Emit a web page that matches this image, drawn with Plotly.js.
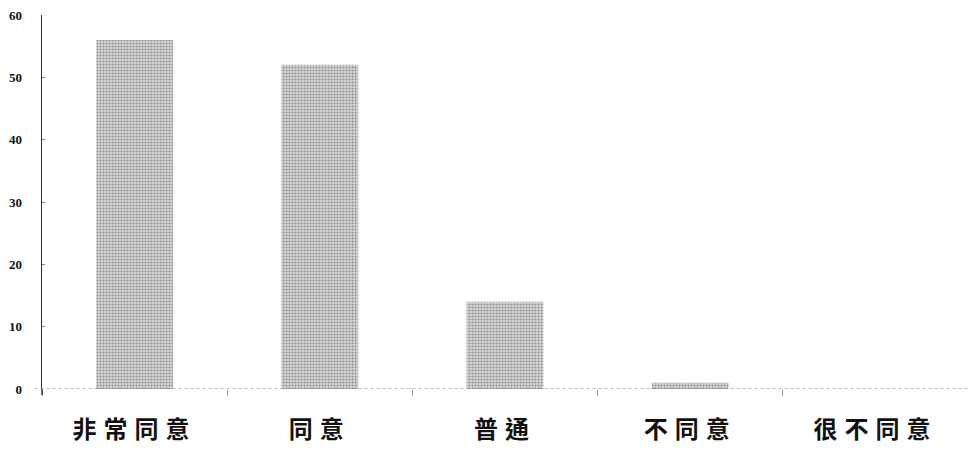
<!DOCTYPE html>
<html>
<head>
<meta charset="utf-8">
<script src="https://cdn.plot.ly/plotly-3.0.1.min.js"></script>
<style>
html,body{margin:0;padding:0;background:#fff;}
#chart{width:968px;height:451px;}
#chart .xtick text{letter-spacing:7px;}
</style>
</head>
<body>
<div id="chart"></div>
<script>
const categories = ["非常同意", "同意", "普通", "不同意", "很不同意"];
const values = [56, 52, 14, 1, 0];
const yTickVals = [0, 10, 20, 30, 40, 50, 60];

const trace = {
  type: "bar",
  x: categories,
  y: values,
  marker: {
    color: "#c4c4c4",
    line: {width: 0},
    pattern: {shape: ".", size: 3, solidity: 0.4, fgcolor: "#8f8f8f", bgcolor: "#d8d8d8", fillmode: "replace"}
  },
  hoverinfo: "none"
};

const layout = {
  width: 968,
  height: 451,
  margin: {l: 42, r: 0, t: 15, b: 62},
  paper_bgcolor: "#fff",
  plot_bgcolor: "#fff",
  bargap: 0.585,
  showlegend: false,
  xaxis: {
    type: "category",
    showgrid: false,
    zeroline: false,
    showline: false,
    ticks: "outside",
    tickson: "boundaries",
    ticklen: 6,
    tickwidth: 1,
    tickcolor: "#999",
    ticklabelstandoff: 24,
    tickfont: {family: "Noto Sans CJK TC", size: 24, color: "#111", weight: "bold"}
  },
  yaxis: {
    range: [0, 60],
    tickvals: yTickVals,
    ticktext: yTickVals.map(String),
    showgrid: false,
    zeroline: false,
    showline: true,
    linecolor: "#333",
    linewidth: 1.5,
    ticks: "inside",
    ticklen: 3,
    tickcolor: "#888",
    ticklabelstandoff: 16,
    tickfont: {family: "Liberation Serif", size: 13, color: "#111", weight: "bold"}
  },
  shapes: [
    {type: "line", xref: "paper", yref: "y", x0: -0.008, x1: 1, y0: 0, y1: 0,
     line: {color: "#777", width: 1, dash: "dot"}},
    {type: "line", xref: "paper", yref: "paper", x0: 0, x1: 0, y0: 0, y1: -0.016,
     line: {color: "#333", width: 1.5}}
  ]
};

Plotly.newPlot("chart", [trace], layout, {staticPlot: true, displayModeBar: false});
</script>
</body>
</html>
